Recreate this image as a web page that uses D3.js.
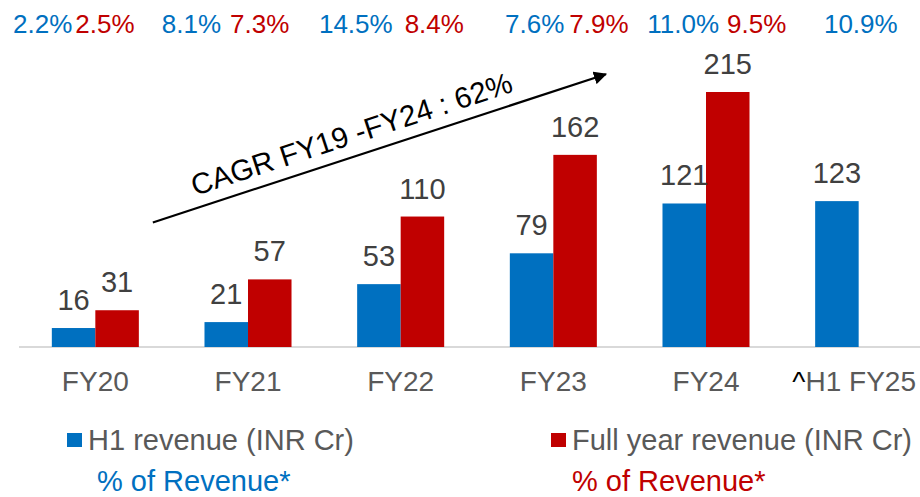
<!DOCTYPE html>
<meta charset="utf-8">
<style>
body { margin: 0; background: #fff; }
text { font-family: "Liberation Sans", Arial, sans-serif; }
.val { font-size: 29px; fill: #404040; }
.cat { font-size: 28px; fill: #595959; }
.pct { font-size: 26px; }
.leg { font-size: 29px; fill: #595959; }
</style>
<svg width="920" height="497"></svg>
<script src="https://cdn.jsdelivr.net/npm/d3@7"></script>
<script>

var categories = ["FY20", "FY21", "FY22", "FY23", "FY24", "H1 FY25"];
var h1Revenue = [16, 21, 53, 79, 121, 123];
var fullRevenue = [31, 57, 110, 162, 215, null];
var h1Pct = ["2.2%", "8.1%", "14.5%", "7.6%", "11.0%", "10.9%"];
var fullPct = ["2.5%", "7.3%", "8.4%", "7.9%", "9.5%", null];
var cagrLabel = "CAGR FY19 -FY24 : 62%";

// hand placed percent boxes, offset from group centre
var h1PctShift = [-23, -27, -8, 11, 13, 39];
var fullPctShift = [-20, -18, 4, 16, 21, 0];

var blue = "#0070c0", red = "#c00000";

var svg = d3.select("svg"),
    width = +svg.attr("width"),
    height = +svg.attr("height");

var x0 = d3.scaleBand()
    .domain(categories)
    .range([19, 935])
    .paddingInner(0.43)
    .paddingOuter(0.215);

var x1 = d3.scaleBand()
    .domain(["h1", "full"])
    .range([0, x0.bandwidth()]);

var y = d3.scaleLinear()
    .domain([0, 215])
    .range([347, 92]);

// axis line
svg.append("line")
    .attr("x1", x0.range()[0]).attr("x2", width)
    .attr("y1", y(0)).attr("y2", y(0))
    .attr("stroke", "#d9d9d9").attr("stroke-width", 2);

var rows = categories.map(function(c, i) {
  return {cat: c, h1: h1Revenue[i], full: fullRevenue[i], i: i};
});

var g = svg.selectAll("g.grp")
  .data(rows)
  .enter().append("g")
    .attr("class", "grp")
    .attr("transform", function(d) { return "translate(" + x0(d.cat) + ",0)"; });

var bars = g.selectAll("rect")
  .data(function(d) {
    return [{k: "h1", v: d.h1}, {k: "full", v: d.full}].filter(function(e) { return e.v != null; });
  })
  .enter();

bars.append("rect")
    .attr("x", function(d) { return x1(d.k); })
    .attr("y", function(d) { return y(d.v); })
    .attr("width", x1.bandwidth())
    .attr("height", function(d) { return y(0) - y(d.v); })
    .attr("fill", function(d) { return d.k == "h1" ? blue : red; });

bars.append("text")
    .attr("class", "val")
    .attr("text-anchor", "middle")
    .attr("x", function(d) { return x1(d.k) + x1.bandwidth() / 2; })
    .attr("y", function(d) { return y(d.v) - 18; })
    .text(function(d) { return d.v; });

// category labels
var cats = svg.selectAll("text.cat")
  .data(rows)
  .enter().append("text")
    .attr("class", "cat")
    .attr("text-anchor", "middle")
    .attr("x", function(d) { return x0(d.cat) + x0.bandwidth() / 2; })
    .attr("y", 391);

cats.each(function(d) {
  var t = d3.select(this);
  if (d.cat == "H1 FY25") {
    t.append("tspan").attr("fill", "#000").text("^");
  }
  t.append("tspan").text(d.cat);
  var b = this.getBBox();
  if (b.x + b.width > width - 4) {
    t.attr("x", +t.attr("x") - (b.x + b.width - (width - 4)));
  }
});

// percent of revenue row
rows.forEach(function(d, i) {
  var c = x0(d.cat) + x0.bandwidth() / 2;
  if (h1Pct[i]) {
    svg.append("text").attr("class", "pct")
      .attr("text-anchor", "end")
      .attr("x", c + h1PctShift[i]).attr("y", 33)
      .attr("fill", blue).text(h1Pct[i]);
  }
  if (fullPct[i]) {
    svg.append("text").attr("class", "pct")
      .attr("text-anchor", "start")
      .attr("x", c + fullPctShift[i]).attr("y", 33)
      .attr("fill", red).text(fullPct[i]);
  }
});

// CAGR arrow
svg.append("defs").append("marker")
    .attr("id", "arr")
    .attr("viewBox", "0 0 10 10")
    .attr("refX", 9).attr("refY", 5)
    .attr("markerWidth", 6).attr("markerHeight", 6)
    .attr("markerUnits", "strokeWidth")
    .attr("orient", "auto")
  .append("path")
    .attr("d", "M0,0L10,5L0,10z")
    .attr("fill", "#000");

var ax1 = x0("FY20") + x0.bandwidth() + 14, ay1 = y(105),
    ax2 = x0("FY23") + x0.bandwidth() + 9, ay2 = y(230);
svg.append("line")
    .attr("x1", ax1).attr("y1", ay1)
    .attr("x2", ax2).attr("y2", ay2)
    .attr("stroke", "#000").attr("stroke-width", 2.2)
    .attr("marker-end", "url(#arr)");

var ang = Math.atan2(ay2 - ay1, ax2 - ax1) * 180 / Math.PI;
svg.append("text")
    .attr("transform", "translate(195,196) rotate(" + ang + ")")
    .attr("font-size", 29.5)
    .attr("fill", "#000")
    .text(cagrLabel);

// legend
var legend = [
  {name: "H1 revenue (INR Cr)", color: blue, x: 67},
  {name: "Full year revenue (INR Cr)", color: red, x: 551}
];

var lg = svg.selectAll("g.leg")
  .data(legend)
  .enter().append("g")
    .attr("transform", function(d) { return "translate(" + d.x + ",0)"; });

lg.append("rect")
    .attr("y", 433).attr("width", 15).attr("height", 14)
    .attr("fill", function(d) { return d.color; });

lg.append("text")
    .attr("class", "leg")
    .attr("x", 21).attr("y", 450)
    .text(function(d) { return d.name; });

lg.append("text")
    .attr("x", function(d, i) { return i == 0 ? 30 : 21; })
    .attr("y", 491)
    .attr("font-size", 29)
    .attr("fill", function(d) { return d.color; })
    .text("% of Revenue*");

</script>
